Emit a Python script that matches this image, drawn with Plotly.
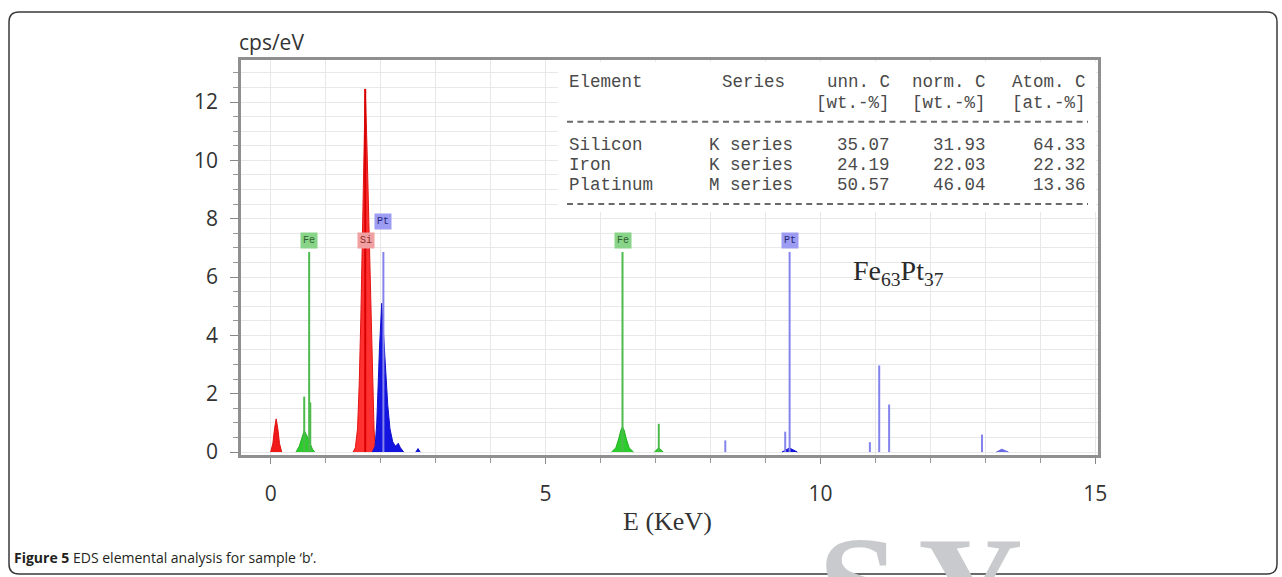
import plotly.graph_objects as go

# ---------------- data ----------------
# filled spectrum peaks: energy (keV) / intensity (cps/eV)
si_noise_x = [0.00, 0.04, 0.07, 0.10, 0.13, 0.16, 0.20]
si_noise_y = [0.00, 0.30, 0.80, 1.14, 0.80, 0.30, 0.00]

si_k_x = [1.50, 1.54, 1.58, 1.61, 1.64, 1.66, 1.68, 1.70, 1.72, 1.75, 1.77, 1.80, 1.82, 1.86, 1.88, 1.90, 1.95]
si_k_y = [0.00, 0.15, 0.80, 2.30, 4.60, 6.90, 9.00, 10.6, 12.45, 10.6, 9.00, 6.90, 4.60, 2.30, 0.80, 0.15, 0.00]

pt_m_x = [1.85, 1.90, 1.93, 1.95, 1.98, 2.02, 2.06, 2.10, 2.13, 2.17, 2.22, 2.27, 2.32, 2.36, 2.42]
pt_m_y = [0.00, 0.20, 1.00, 2.30, 3.60, 5.10, 3.80, 2.60, 1.60, 0.80, 0.35, 0.20, 0.30, 0.15, 0.00]

pt_m2_x = [2.64, 2.68, 2.72]
pt_m2_y = [0.00, 0.12, 0.00]

fe_l_x = [0.46, 0.52, 0.57, 0.61, 0.66, 0.71, 0.76, 0.80]
fe_l_y = [0.00, 0.20, 0.50, 0.74, 0.55, 0.30, 0.10, 0.00]

fe_k_x = [6.20, 6.28, 6.33, 6.37, 6.40, 6.43, 6.47, 6.52, 6.60]
fe_k_y = [0.00, 0.15, 0.45, 0.75, 0.86, 0.75, 0.45, 0.15, 0.00]

fe_kb_x = [6.98, 7.03, 7.06, 7.09, 7.14]
fe_kb_y = [0.00, 0.10, 0.15, 0.10, 0.00]

pt_l_x = [9.30, 9.38, 9.44, 9.50, 9.58]
pt_l_y = [0.00, 0.08, 0.14, 0.08, 0.00]

pt_lg_x = [13.20, 13.30, 13.42]
pt_lg_y = [0.00, 0.10, 0.00]

# element marker lines: energy (keV) and height (cps/eV)
fe_line_e = [0.61, 0.70, 0.72, 6.40, 7.06]
fe_line_h = [1.90, 6.86, 1.70, 6.86, 0.97]
pt_line_e = [2.05, 8.27, 9.36, 9.44, 10.90, 11.07, 11.25, 12.94]
pt_line_h = [6.86, 0.40, 0.70, 6.86, 0.34, 2.97, 1.63, 0.60]
si_line_e = [1.72]
si_line_h = [12.45]

# element labels
label_text = ["Fe", "Si", "Pt", "Fe", "Pt"]
label_e = [0.70, 1.74, 2.05, 6.40, 9.44]
label_y = [7.27, 7.27, 7.90, 7.27, 7.27]
label_kind = ["fe", "si", "pt", "fe", "pt"]

# quantification table
tab_elements = ["Silicon", "Iron", "Platinum"]
tab_series = ["K series", "K series", "M series"]
tab_unn = ["35.07", "24.19", "50.57"]
tab_norm = ["31.93", "22.03", "46.04"]
tab_atom = ["64.33", "22.32", "13.36"]

x_ticks = [0, 5, 10, 15]
y_ticks = [0, 2, 4, 6, 8, 10, 12]

# ---------------- layout geometry (pixels) ----------------
FW, FH = 1282, 577
L, R, T, B = 241, 1098, 60, 455


def px(x):
    return (x - L) / (R - L)


def py(y):
    return (B - y) / (B - T)


def stems(es, hs):
    xs, ys = [], []
    for e, h in zip(es, hs):
        xs += [e, e, None]
        ys += [0, h, None]
    return xs, ys


def note(x, y, text, font, xa="center", ya="middle", **kw):
    d = dict(x=px(x), y=py(y), xref="paper", yref="paper", text=text, showarrow=False,
             xanchor=xa, yanchor=ya, font=font)
    d.update(kw)
    return d


fig = go.Figure()

fills = [
    (si_noise_x, si_noise_y, "#f01818", "#e01010"),
    (fe_l_x, fe_l_y, "#2ccc2c", "#20b020"),
    (si_k_x, si_k_y, "#ff3030", "#e41414"),
    (pt_m_x, pt_m_y, "#1414e0", "#1010cc"),
    (pt_m2_x, pt_m2_y, "#1414e0", "#1010cc"),
    (fe_k_x, fe_k_y, "#2ccc2c", "#20b020"),
    (fe_kb_x, fe_kb_y, "#2ccc2c", "#20b020"),
    (pt_l_x, pt_l_y, "#1414e0", "#1010cc"),
    (pt_lg_x, pt_lg_y, "#6a6ae8", "#6a6ae8"),
]
for xs, ys, fc, lc in fills:
    fig.add_trace(go.Scatter(x=xs, y=ys, mode="lines", fill="toself",
                             fillcolor=fc, line=dict(color=lc, width=1),
                             hoverinfo="skip", showlegend=False))

for es, hs, col, w in [(fe_line_e, fe_line_h, "#4cbb4c", 2),
                       (pt_line_e, pt_line_h, "#8484ec", 2),
                       (si_line_e, si_line_h, "#d80000", 2)]:
    xs, ys = stems(es, hs)
    fig.add_trace(go.Scatter(x=xs, y=ys, mode="lines",
                             line=dict(color=col, width=w),
                             hoverinfo="skip", showlegend=False))

annotations = []
label_style = {
    "fe": dict(bg="#88d488", fg="#2f5f2f"),
    "si": dict(bg="#f0a0a0", fg="#8a2a2a"),
    "pt": dict(bg="#9c9cf2", fg="#26267a"),
}
for t, e, yv, k in zip(label_text, label_e, label_y, label_kind):
    st = label_style[k]
    annotations.append(dict(x=e, y=yv, xref="x", yref="y", text=t, showarrow=False,
                            xanchor="center", yanchor="middle",
                            bgcolor=st["bg"], borderpad=2,
                            font=dict(family="Liberation Mono", size=10, color=st["fg"])))

# formula
annotations.append(note(898, 272, "Fe<sub>63</sub>Pt<sub>37</sub>",
                        dict(family="Liberation Serif", size=28, color="#2a2a2a")))

# table text
mono = dict(family="Liberation Mono", size=17.5, color="#4a4a4a")
row_y = [145, 164.5, 185]
annotations.append(note(567, 81.7, "Element", mono, xa="left"))
annotations.append(note(720, 81.7, "Series", mono, xa="left"))
for xr, h1, h2 in [(892, "unn. C", "[wt.-%]"), (988, "norm. C", "[wt.-%]"), (1088, "Atom. C", "[at.-%]")]:
    annotations.append(note(xr, 81.7, h1, mono, xa="right"))
    annotations.append(note(xr, 103, h2, mono, xa="right"))
for i, yy in enumerate(row_y):
    annotations.append(note(567, yy, tab_elements[i], mono, xa="left"))
    annotations.append(note(707, yy, tab_series[i], mono, xa="left"))
    for xr, col in [(892, tab_unn), (988, tab_norm), (1088, tab_atom)]:
        annotations.append(note(xr, yy, col[i], mono, xa="right"))

# axis titles
annotations.append(note(271, 42, "cps/eV", dict(family="Open Sans", size=21, color="#333")))
annotations.append(note(667, 521, "E (KeV)", dict(family="Liberation Serif", size=26, color="#333")))

# caption
annotations.append(note(12, 557, "<b>Figure 5</b> EDS elemental analysis for sample \u2018b\u2019.",
                        dict(family="Open Sans", size=14, color="#231f20"), xa="left"))

# watermark fragments (tops of large letters cut by the page edge)
for ch, cx in [("S", 858), ("Y", 970)]:
    annotations.append(note(cx, 505, "<b>" + ch + "</b>",
                            dict(family="Liberation Serif", size=145, color="#c9cacd"), ya="top"))

shapes = [
    # table background
    dict(type="rect", xref="paper", yref="paper", x0=px(558), x1=px(1096), y0=py(212), y1=py(62),
         fillcolor="white", line=dict(width=0), layer="above"),
    dict(type="line", xref="paper", yref="paper", x0=px(567), x1=px(1088), y0=py(121.7), y1=py(121.7),
         line=dict(color="#6a6a6a", width=2, dash="6px,4.4px"), layer="above"),
    dict(type="line", xref="paper", yref="paper", x0=px(567), x1=px(1088), y0=py(204), y1=py(204),
         line=dict(color="#6a6a6a", width=2, dash="6px,4.4px"), layer="above"),
]
# rounded outer border
x0, x1, y0, y1, r = 9, 1277, 12, 574, 10
path = (f"M {px(x0+r)} {py(y0)} L {px(x1-r)} {py(y0)} Q {px(x1)} {py(y0)} {px(x1)} {py(y0+r)} "
        f"L {px(x1)} {py(y1-r)} Q {px(x1)} {py(y1)} {px(x1-r)} {py(y1)} "
        f"L {px(x0+r)} {py(y1)} Q {px(x0)} {py(y1)} {px(x0)} {py(y1-r)} "
        f"L {px(x0)} {py(y0+r)} Q {px(x0)} {py(y0)} {px(x0+r)} {py(y0)} Z")
shapes.append(dict(type="path", xref="paper", yref="paper", path=path,
                   line=dict(color="#3a3a3a", width=1.5), layer="below"))

grid = "#e8e8e8"
fig.update_layout(
    width=FW, height=FH, autosize=False,
    margin=dict(l=L, r=FW - R, t=T, b=FH - B, pad=0),
    paper_bgcolor="white", plot_bgcolor="white",
    showlegend=False,
    annotations=annotations, shapes=shapes,
    xaxis=dict(range=[-0.54, 15.05], tickvals=x_ticks, ticktext=[str(v) for v in x_ticks],
               showgrid=True, gridcolor=grid, gridwidth=1, zeroline=False,
               ticks="outside", ticklen=6, tickcolor="#888", tickwidth=1,
               ticklabelstandoff=12,
               minor=dict(dtick=1, tick0=0, showgrid=True, gridcolor=grid, ticks="outside",
                          ticklen=5, tickcolor="#999"),
               showline=True, linecolor="#8f8f8f", linewidth=2.5, mirror=True,
               tickfont=dict(family="Open Sans", size=21, color="#333")),
    yaxis=dict(range=[-0.1, 13.44], tickvals=y_ticks, ticktext=[str(v) for v in y_ticks],
               showgrid=True, gridcolor=grid, gridwidth=1, zeroline=False,
               ticks="outside", ticklen=8, tickcolor="#888", tickwidth=1,
               ticklabelstandoff=8,
               minor=dict(dtick=0.5, tick0=0, showgrid=True, gridcolor=grid, ticks="outside",
                          ticklen=5, tickcolor="#999"),
               showline=True, linecolor="#8f8f8f", linewidth=2.5, mirror=True,
               tickfont=dict(family="Open Sans", size=21, color="#333")),
)

fig.write_html("out.html")
